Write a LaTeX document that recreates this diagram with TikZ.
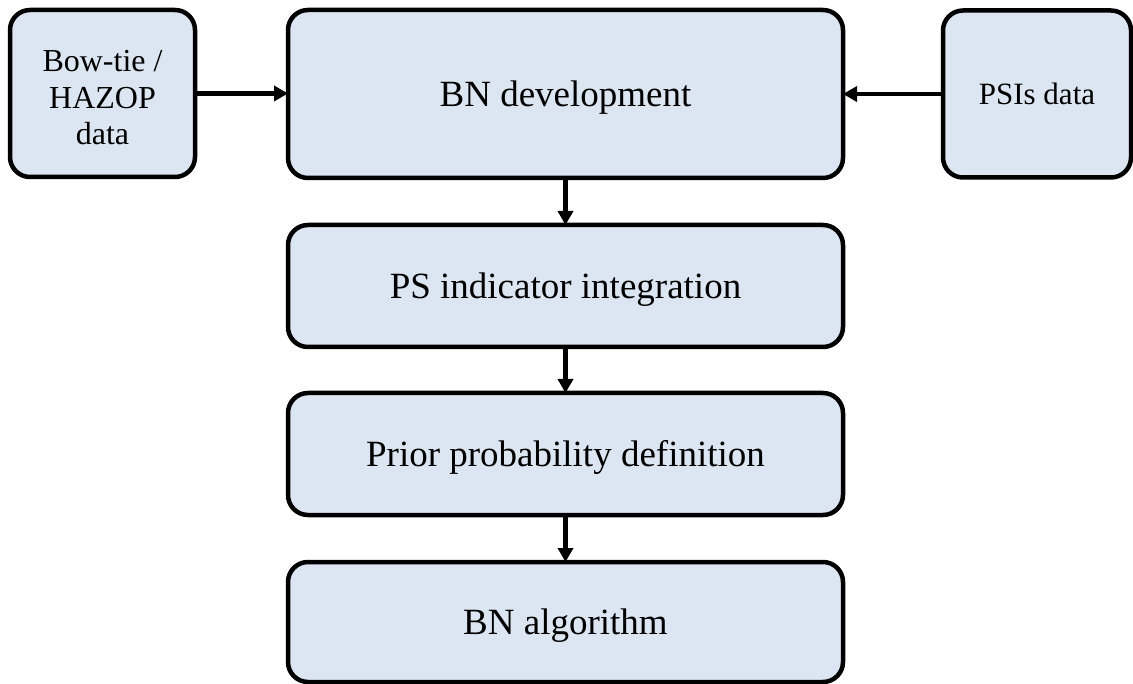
\documentclass[tikz,border=0pt]{standalone}
\usepackage{fontspec}
\setmainfont{Liberation Serif}
\usetikzlibrary{arrows.meta}
\definecolor{boxfill}{RGB}{220,230,242}
\tikzset{
  stage/.style={draw=black, line width=4.5pt, fill=boxfill, rounded corners=20pt,
    inner sep=0pt, outer sep=0pt,
    font=\fontsize{37}{42}\selectfont, text height=24.5pt, text depth=0pt},
  source/.style={stage, font=\fontsize{32}{36.5}\selectfont},
  flow/.style={line width=4.5pt, -{Triangle[length=14pt,width=15pt]}}
}
\begin{document}
\begin{tikzpicture}[x=1pt, y=-1pt]
  \useasboundingbox (0,0) rectangle (1133,684);
  % input data boxes
  \node[source, minimum width=185pt, minimum height=167pt, align=center,
        text height=, text depth=] (bt) at (102.5,93.5)
        {\rule{0pt}{30pt}Bow-tie /\\HAZOP\\data};
  \node[source, minimum width=188pt, minimum height=167pt,
        font=\fontsize{31}{36}\selectfont, text height=20.5pt] (psi) at (1037,94) {PSIs data};
  % main process chain
  \node[stage, minimum width=555pt, minimum height=168pt] (dev) at (565.5,94) {BN development};
  \node[stage, minimum width=555pt, minimum height=122pt] (ind) at (565.5,286) {PS indicator integration};
  \node[stage, minimum width=555pt, minimum height=122pt] (pri) at (565.5,454) {Prior probability definition};
  \node[stage, minimum width=555pt, minimum height=120pt] (alg) at (565.5,622) {BN algorithm};
  % connectors
  \draw[flow] (bt.east) -- (bt.east -| dev.west);
  \draw[flow] (psi.west) -- (psi.west -| dev.east);
  \draw[flow] (dev.south) -- (ind.north);
  \draw[flow] (ind.south) -- (pri.north);
  \draw[flow] (pri.south) -- (alg.north);
\end{tikzpicture}
\end{document}
